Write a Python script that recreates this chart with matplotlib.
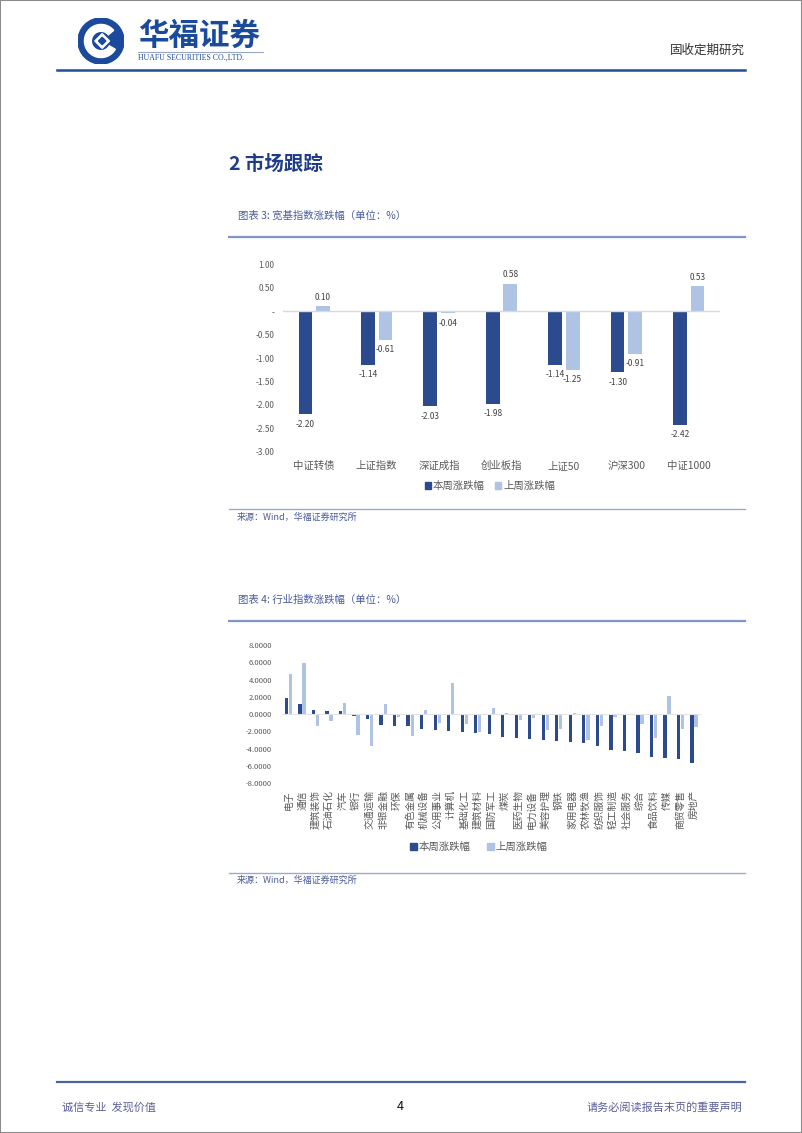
import matplotlib
matplotlib.use("Agg")
import matplotlib.pyplot as plt
import numpy as np
from matplotlib.patches import Circle, Rectangle, Wedge, Polygon, Patch
from matplotlib.ticker import FuncFormatter

plt.rcParams['font.family'] = ['Noto Sans CJK SC', 'DejaVu Sans']

# ---- data ----
idx_names = ['中证转债', '上证指数', '深证成指', '创业板指', '上证50', '沪深300', '中证1000']
idx_this_week = [-2.20, -1.14, -2.03, -1.98, -1.14, -1.30, -2.42]
idx_last_week = [0.10, -0.61, -0.04, 0.58, -1.25, -0.91, 0.53]

ind_names = ['电子', '通信', '建筑装饰', '石油石化', '汽车', '银行', '交通运输', '非银金融',
             '环保', '有色金属', '机械设备', '公用事业', '计算机', '基础化工', '建筑材料',
             '国防军工', '煤炭', '医药生物', '电力设备', '美容护理', '钢铁', '家用电器',
             '农林牧渔', '纺织服饰', '轻工制造', '社会服务', '综合', '食品饮料', '传媒',
             '商贸零售', '房地产']
ind_this_week = [1.85, 1.23, 0.50, 0.35, 0.35, -0.27, -0.54, -1.27, -1.35, -1.42, -1.69,
                 -1.85, -1.92, -2.12, -2.15, -2.35, -2.62, -2.73, -2.92, -3.00, -3.16, -3.27,
                 -3.31, -3.66, -4.19, -4.31, -4.47, -4.97, -5.12, -5.16, -5.70]
ind_last_week = [4.66, 5.96, -1.35, -0.77, 1.31, -2.46, -3.69, 1.19, -0.38, -2.50, 0.48,
                 -1.08, 3.66, -1.12, -2.04, 0.69, 0.08, -0.73, -0.42, -1.89, -1.73, 0.10,
                 -3.00, -1.42, -0.31, -0.08, -1.15, -2.81, 2.08, -1.69, -1.46]

legend_labels = ['本周涨跌幅', '上周涨跌幅']

DARK = '#2C4B8E'
LIGHT = '#AFC3E4'
GRAY = '#595959'
W, H = 802, 1133


def fx(x):
    return x / W


def fy(y):
    return 1 - y / H


fig = plt.figure(figsize=(8.02, 11.33), dpi=100)

# page border
fig.patches.append(Rectangle((0, 0), 1, 1, transform=fig.transFigure, fill=False,
                             edgecolor='#8c8c8c', linewidth=1.5))

# ---- header ----
logo = fig.add_axes([fx(68), fy(64), fx(66), 46 / H])
logo.set_xlim(-1, 1)
logo.set_ylim(-1, 1)
logo.set_aspect('equal')
logo.axis('off')
logo.add_patch(Circle((0, 0), 1, color='#1B4A9C'))
logo.add_patch(Wedge((0, 0), 0.72, 40, 330, width=0.3, color='white'))
logo.add_patch(Polygon([[0.05, 0.32], [0.37, 0.0], [0.05, -0.32], [-0.27, 0.0]], color='white'))
logo.add_patch(Polygon([[0.05, 0.16], [0.21, 0.0], [0.05, -0.16], [-0.11, 0.0]], color='#1B4A9C'))

fig.text(fx(138), fy(36), '华福证券', fontsize=22, fontweight='bold', color='#1A4B9B',
         va='center', ha='left')
fig.add_artist(plt.Line2D([fx(138), fx(263)], [fy(52), fy(52)], color='#9aa6c4', lw=0.8))
fig.text(fx(138), fy(58), 'HUAFU SECURITIES CO.,LTD.', fontsize=5.6, color='#1A4B9B',
         family='Liberation Serif', va='center', ha='left')
fig.text(fx(745), fy(50), '固收定期研究', fontsize=9, color='#333333', va='center', ha='right')
fig.add_artist(plt.Line2D([fx(57), fx(745)], [fy(70), fy(70)], color='#1F4E96', lw=1.8))

# ---- section title ----
fig.text(fx(229), fy(164), '2 市场跟踪', fontsize=14, fontweight='bold', color='#1F3C88',
         va='center', ha='left')

title_color = '#4A5C9B'
line_color = '#7F95C5'

# ---- chart 3 ----
fig.text(fx(238), fy(216), '图表 3: 宽基指数涨跌幅（单位：%）', fontsize=7.5, color=title_color,
         va='center', ha='left')
fig.add_artist(plt.Line2D([fx(229), fx(745)], [fy(237), fy(237)], color=line_color, lw=1.6))

ax1 = fig.add_axes([fx(283), fy(451.7), fx(720) - fx(283), 187.4 / H])
x1 = np.arange(len(idx_names))
b1 = ax1.bar(x1 - 0.14, idx_this_week, width=0.22, color=DARK)
b2 = ax1.bar(x1 + 0.14, idx_last_week, width=0.22, color=LIGHT)
ax1.set_xlim(-0.5, len(idx_names) - 0.5)
ax1.set_ylim(-3, 1)
ax1.set_yticks(np.arange(-3, 1.01, 0.5))
ax1.yaxis.set_major_formatter(FuncFormatter(lambda v, p: '-' if abs(v) < 1e-9 else f'{v:.2f}'))
ax1.axhline(0, color='#D9D9D9', lw=1)
for s in ax1.spines.values():
    s.set_visible(False)
ax1.tick_params(axis='y', length=0, labelsize=6, labelcolor=GRAY, pad=6)
ax1.tick_params(axis='x', length=0, labelsize=7.5, labelcolor=GRAY, pad=12.5)
ax1.set_xticks(x1)
ax1.set_xticklabels(idx_names, va='baseline')
for bars, vals in ((b1, idx_this_week), (b2, idx_last_week)):
    for rect, v in zip(bars, vals):
        off = 9 if v >= 0 else -10
        ax1.annotate(f'{v:.2f}', (rect.get_x() + rect.get_width() / 2, v),
                     xytext=(0, off), textcoords='offset pixels', ha='center', va='center',
                     fontsize=6, color='#404040')

fig.legend(handles=[Patch(color=DARK), Patch(color=LIGHT)], labels=legend_labels,
           loc='center', bbox_to_anchor=(fx(490), fy(486)), ncol=2, frameon=False,
           fontsize=7.5, labelcolor=GRAY, handlelength=0.6, handleheight=0.6,
           handletextpad=0.2, columnspacing=1.0)

fig.add_artist(plt.Line2D([fx(229), fx(745)], [fy(509), fy(509)], color='#9aaad0', lw=1))
fig.text(fx(237), fy(517), '来源：Wind，华福证券研究所', fontsize=6.5, color=title_color,
         va='center', ha='left')

# ---- chart 4 ----
fig.text(fx(238), fy(600), '图表 4: 行业指数涨跌幅（单位：%）', fontsize=7.5, color=title_color,
         va='center', ha='left')
fig.add_artist(plt.Line2D([fx(229), fx(745)], [fy(621), fy(621)], color=line_color, lw=1.6))

ax2 = fig.add_axes([fx(281.7), fy(783.3), fx(700.8) - fx(281.7), 138.3 / H])
x2 = np.arange(len(ind_names))
ax2.bar(x2 - 0.15, ind_this_week, width=0.24, color=DARK)
ax2.bar(x2 + 0.15, ind_last_week, width=0.24, color=LIGHT)
ax2.set_xlim(-0.5, len(ind_names) - 0.5)
ax2.set_ylim(-8, 8)
ax2.set_yticks(np.arange(-8, 8.1, 2))
ax2.yaxis.set_major_formatter(FuncFormatter(lambda v, p: f'{v:.4f}'))
ax2.axhline(0, color='#E3E3E3', lw=0.8)
for s in ax2.spines.values():
    s.set_visible(False)
ax2.tick_params(axis='y', length=0, labelsize=5.5, labelcolor=GRAY, pad=7)
ax2.tick_params(axis='x', length=0, labelsize=7, labelcolor=GRAY, pad=5)
ax2.set_xticks(x2)
ax2.set_xticklabels(ind_names, rotation=90, va='top', ha='center')

fig.legend(handles=[Patch(color=DARK), Patch(color=LIGHT)], labels=legend_labels,
           loc='center', bbox_to_anchor=(fx(479), fy(847)), ncol=2, frameon=False,
           fontsize=7.5, labelcolor=GRAY, handlelength=0.6, handleheight=0.6,
           handletextpad=0.2, columnspacing=1.6)

fig.add_artist(plt.Line2D([fx(229), fx(745)], [fy(873), fy(873)], color='#9aaad0', lw=1))
fig.text(fx(237), fy(880), '来源：Wind，华福证券研究所', fontsize=6.5, color=title_color,
         va='center', ha='left')

# ---- footer ----
fig.add_artist(plt.Line2D([fx(57), fx(745)], [fy(1082), fy(1082)], color='#4A6597', lw=1.6))
fig.text(fx(62), fy(1107), '诚信专业  发现价值', fontsize=8, color='#5B5F9A', va='center', ha='left')
fig.text(fx(400), fy(1107), '4', fontsize=9, color='#111111', va='center', ha='center')
fig.text(fx(742), fy(1107), '请务必阅读报告末页的重要声明', fontsize=8, color='#5B5F9A',
         va='center', ha='right')

fig.savefig('out.png', dpi=100)
